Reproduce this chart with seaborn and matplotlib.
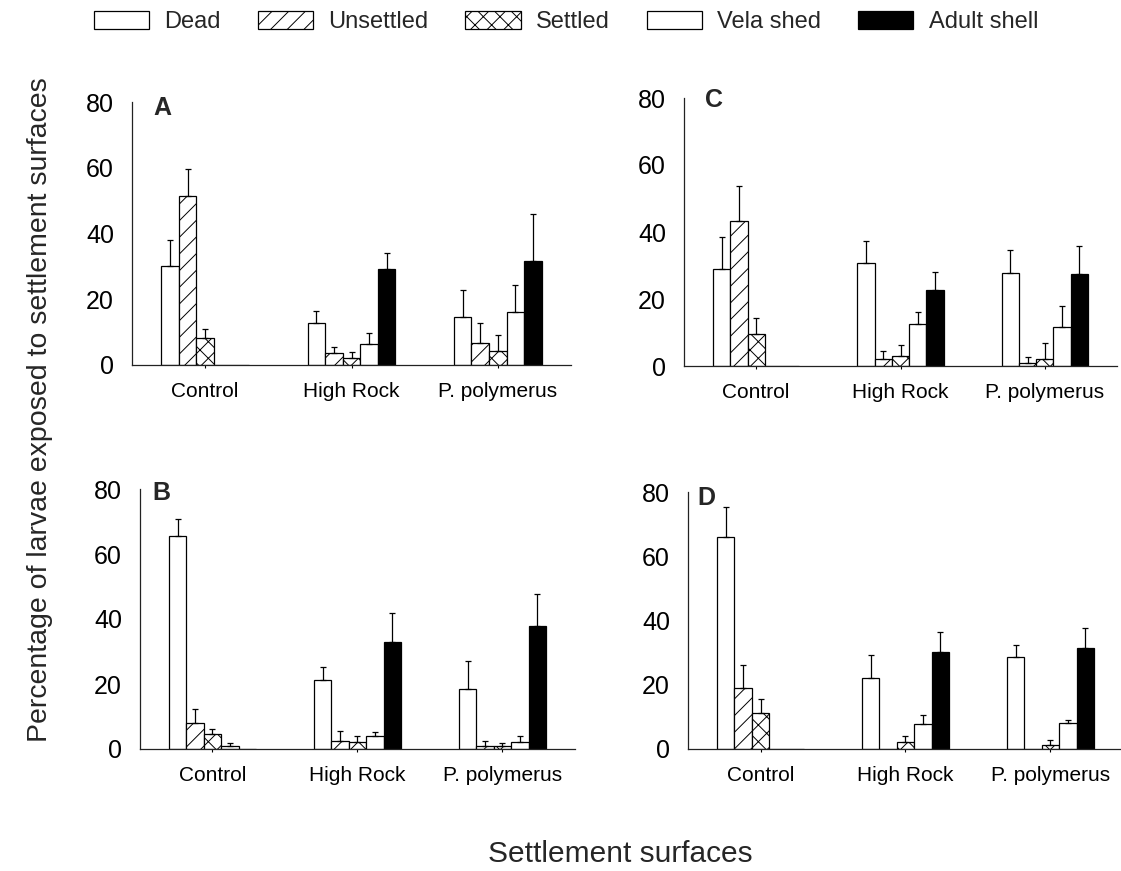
import numpy as np
import pandas as pd
import matplotlib
matplotlib.use("Agg")
import matplotlib.pyplot as plt
from matplotlib.patches import Patch
import seaborn as sns

# Settlement surfaces and larval fates
surfaces = ["Control", "High Rock", "P. polymerus"]
fates = ["Dead", "Unsettled", "Settled", "Vela shed", "Adult shell"]

# Mean percentage of larvae (per fate, across surfaces) and upper SE
dead_A = [30.0, 12.7, 14.7]
unsettled_A = [51.4, 3.5, 6.8]
settled_A = [8.1, 2.2, 4.4]
vela_A = [0.0, 6.4, 16.0]
adult_A = [0.0, 29.1, 31.5]
dead_A_se = [8.0, 3.8, 8.1]
unsettled_A_se = [8.3, 2.1, 5.9]
settled_A_se = [3.0, 1.8, 4.6]
vela_A_se = [0.0, 3.2, 8.3]
adult_A_se = [0.0, 4.9, 14.3]

dead_B = [65.4, 21.2, 18.5]
unsettled_B = [8.0, 2.5, 0.8]
settled_B = [4.7, 2.2, 0.8]
vela_B = [0.8, 3.9, 2.2]
adult_B = [0.0, 32.8, 37.7]
dead_B_se = [5.5, 4.1, 8.7]
unsettled_B_se = [4.3, 3.1, 1.8]
settled_B_se = [1.5, 1.7, 1.2]
vela_B_se = [0.9, 1.3, 1.7]
adult_B_se = [0.0, 9.1, 10.1]

dead_C = [29.0, 30.7, 27.7]
unsettled_C = [43.2, 2.1, 0.8]
settled_C = [9.5, 2.9, 2.2]
vela_C = [0.0, 12.4, 11.5]
adult_C = [0.0, 22.7, 27.4]
dead_C_se = [9.6, 6.5, 7.0]
unsettled_C_se = [10.6, 2.5, 1.8]
settled_C_se = [4.7, 3.3, 4.8]
vela_C_se = [0.0, 3.6, 6.5]
adult_C_se = [0.0, 5.3, 8.3]

dead_D = [65.9, 22.0, 28.5]
unsettled_D = [19.1, 0.0, 0.0]
settled_D = [11.2, 2.1, 1.2]
vela_D = [0.0, 7.8, 8.1]
adult_D = [0.0, 30.3, 31.5]
dead_D_se = [9.4, 7.2, 3.9]
unsettled_D_se = [7.2, 0.0, 0.0]
settled_D_se = [4.3, 2.1, 1.7]
vela_D_se = [0.0, 2.9, 0.8]
adult_D_se = [0.0, 6.0, 6.2]

yticks = [0, 20, 40, 60, 80]

panels = {
    "A": ([dead_A, unsettled_A, settled_A, vela_A, adult_A],
          [dead_A_se, unsettled_A_se, settled_A_se, vela_A_se, adult_A_se]),
    "B": ([dead_B, unsettled_B, settled_B, vela_B, adult_B],
          [dead_B_se, unsettled_B_se, settled_B_se, vela_B_se, adult_B_se]),
    "C": ([dead_C, unsettled_C, settled_C, vela_C, adult_C],
          [dead_C_se, unsettled_C_se, settled_C_se, vela_C_se, adult_C_se]),
    "D": ([dead_D, unsettled_D, settled_D, vela_D, adult_D],
          [dead_D_se, unsettled_D_se, settled_D_se, vela_D_se, adult_D_se]),
}

sns.set_theme(style="white")
plt.rcParams["font.family"] = ["Liberation Sans", "DejaVu Sans"]
plt.rcParams["hatch.linewidth"] = 0.7

fill = {"Dead": "white", "Unsettled": "white", "Settled": "white",
        "Vela shed": "white", "Adult shell": "black"}
hatch = {"Dead": "", "Unsettled": "//", "Settled": "xx",
         "Vela shed": "", "Adult shell": ""}

W, H = 1121, 871
fig = plt.figure(figsize=(W / 100, H / 100), dpi=100)

# panel boxes in pixels: left, right, top (y=80), bottom (y=0); letter offset
boxes = {
    "A": (132, 571, 102, 365, 21, 0.95),
    "C": (684, 1117, 98, 366, 21, 0.966),
    "B": (140, 575, 489, 749, 12, 0.958),
    "D": (688, 1123, 492, 749, 9, 0.95),
}

for key, (means, ses) in panels.items():
    l, r, t, b, dx, ly = boxes[key]
    ax = fig.add_axes([l / W, 1 - b / H, (r - l) / W, (b - t) / H])

    rows = []
    for fate, vals in zip(fates, means):
        for s, v in zip(surfaces, vals):
            rows.append({"surface": s, "fate": fate, "value": v})
    df = pd.DataFrame(rows)

    sns.barplot(data=df, x="surface", y="value", hue="fate",
                order=surfaces, hue_order=fates, palette=fill,
                saturation=1, width=0.6, edgecolor="black", linewidth=0.9,
                errorbar=None, legend=False, ax=ax)

    for cont, fate, se in zip(ax.containers, fates, ses):
        xs, hs, es = [], [], []
        for bar, e in zip(cont, se):
            bar.set_hatch(hatch[fate])
            if bar.get_height() > 0:
                xs.append(bar.get_x() + bar.get_width() / 2)
                hs.append(bar.get_height())
                es.append(e)
        if xs:
            ax.errorbar(xs, hs, yerr=[np.zeros(len(es)), es], fmt="none",
                        ecolor="black", elinewidth=0.9, capsize=2.5,
                        capthick=0.9, zorder=1)

    ax.set_xlim(-0.5, 2.5)
    ax.set_ylim(0, 80)
    ax.set_yticks(yticks)
    ax.set_xlabel("")
    ax.set_ylabel("")
    sns.despine(ax=ax)
    for side in ("left", "bottom"):
        ax.spines[side].set_color("#222222")
        ax.spines[side].set_linewidth(0.9)
    ax.tick_params(axis="y", length=0, pad=13, labelsize=18, colors="black")
    ax.tick_params(axis="x", length=2, width=0.8, pad=10, labelsize=15,
                   colors="black", bottom=True)
    ax.text(dx / (r - l), ly, key, transform=ax.transAxes, fontsize=18,
            fontweight="bold", va="baseline", ha="left")

handles = [Patch(facecolor=fill[f], edgecolor="black", linewidth=0.9,
                 hatch=hatch[f], label=f) for f in fates]
fig.legend(handles=handles, loc="center", ncol=5,
           bbox_to_anchor=(566 / W, 1 - 22 / H), frameon=False,
           fontsize=17, handlelength=2.35, handleheight=0.8,
           handletextpad=0.65, columnspacing=1.55)

fig.text(40 / W, 1 - 410 / H, "Percentage of larvae exposed to settlement surfaces",
         rotation=90, ha="center", va="center", fontsize=20.5)
fig.text(620 / W, 1 - 862 / H, "Settlement surfaces", ha="center",
         va="baseline", fontsize=21.5)

fig.savefig("out.png", dpi=100)
